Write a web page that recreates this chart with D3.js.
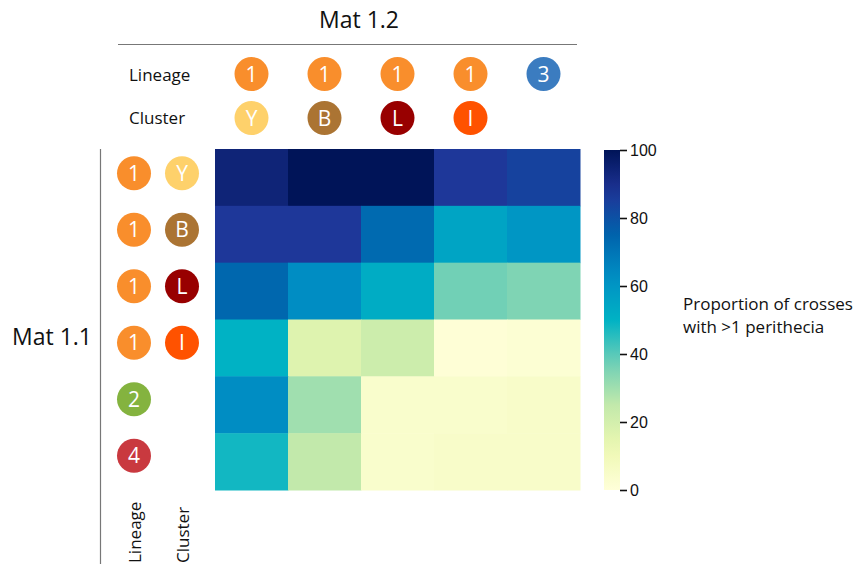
<!DOCTYPE html>
<html>
<head>
<meta charset="utf-8">
<script src="https://cdn.jsdelivr.net/npm/d3@7"></script>
<style>
  body { margin: 0; background: #fff; }
  text { font-family: "Open Sans", "Noto Sans", sans-serif; }
</style>
</head>
<body>
<svg id="chart" width="865" height="564"></svg>
<script>
// Mat 1.2 strains (columns) and Mat 1.1 strains (rows)
var colLineage = ["1", "1", "1", "1", "3"];
var colCluster = ["Y", "B", "L", "I", ""];
var rowLineage = ["1", "1", "1", "1", "2", "4"];
var rowCluster = ["Y", "B", "L", "I", "", ""];

// proportion of crosses with >1 perithecia (%), row by row
var values = [
    [94, 100, 100, 87, 84],
    [87, 87, 73, 55, 60],
    [74, 63, 52, 37, 35],
    [50, 17, 22, 1, 2],
    [63, 30, 4, 4, 5],
    [48, 25, 4, 5, 5]
];

var colorTicks = [0, 20, 40, 60, 80, 100];

// YlGnBu as it comes out in the figure
var colorStops = [0, 12.5, 25, 37.5, 50, 62.5, 75, 87.5, 100];
var colorRange = ["#ffffd9", "#edf8b1", "#c2e9ab", "#6ecfb6", "#00b2c4", "#008fc4", "#0063ac", "#1f3598", "#001458"];

var lineageColor = { "1": "#f98e2c", "2": "#84b33f", "3": "#3b7cc0", "4": "#c9393f" };
var clusterColor = { "Y": "#fed16b", "B": "#ab7433", "L": "#980000", "I": "#ff5200" };

var svg = d3.select("#chart");

var x = d3.scaleBand().domain(d3.range(colLineage.length)).range([215, 580]);
var y = d3.scaleBand().domain(d3.range(rowLineage.length)).range([149, 490]);
// left circles sit a little above the row centres
var yDot = d3.scaleBand().domain(d3.range(rowLineage.length)).range([145, 484]);

var color = d3.scaleLinear().domain(colorStops).range(colorRange).clamp(true);

// heatmap cells
values.forEach(function (row, i) {
    svg.selectAll(null)
        .data(row)
        .enter().append("rect")
        .attr("x", function (d, j) { return x(j); })
        .attr("y", y(i))
        .attr("width", x.bandwidth() + 0.5)
        .attr("height", y.bandwidth() + 0.5)
        .attr("fill", function (d) { return color(d); });
});

function dot(cx, cy, label, fill) {
    if (!label) return;
    svg.append("circle")
        .attr("cx", cx).attr("cy", cy).attr("r", 17)
        .attr("fill", fill);
    svg.append("text")
        .attr("x", cx).attr("y", cy + 7.5)
        .attr("text-anchor", "middle")
        .attr("font-size", 21)
        .attr("fill", "#fff")
        .text(label);
}

// top header
svg.append("text")
    .attr("x", 359).attr("y", 28)
    .attr("text-anchor", "middle")
    .attr("font-size", 23)
    .attr("fill", "#111")
    .text("Mat 1.2");

svg.append("line")
    .attr("x1", 118).attr("x2", 577)
    .attr("y1", 44.5).attr("y2", 44.5)
    .attr("stroke", "#777").attr("stroke-width", 1.2);

svg.append("text").attr("x", 129).attr("y", 81)
    .attr("font-size", 17).attr("fill", "#111").text("Lineage");
svg.append("text").attr("x", 129).attr("y", 124)
    .attr("font-size", 17).attr("fill", "#111").text("Cluster");

colLineage.forEach(function (d, j) {
    dot(x(j) + x.bandwidth() / 2, 74, d, lineageColor[d]);
});
colCluster.forEach(function (d, j) {
    dot(x(j) + x.bandwidth() / 2, 118, d, clusterColor[d]);
});

// left header
svg.append("text")
    .attr("x", 12).attr("y", 345)
    .attr("font-size", 23)
    .attr("fill", "#111")
    .text("Mat 1.1");

svg.append("line")
    .attr("x1", 100.5).attr("x2", 100.5)
    .attr("y1", 149).attr("y2", 564)
    .attr("stroke", "#777").attr("stroke-width", 1.2);

rowLineage.forEach(function (d, i) {
    dot(134, yDot(i) + yDot.bandwidth() / 2, d, lineageColor[d]);
});
rowCluster.forEach(function (d, i) {
    dot(182, yDot(i) + yDot.bandwidth() / 2, d, clusterColor[d]);
});

svg.append("text")
    .attr("transform", "translate(141,563) rotate(-90)")
    .attr("font-size", 17).attr("fill", "#111").text("Lineage");
svg.append("text")
    .attr("transform", "translate(189,563) rotate(-90)")
    .attr("font-size", 17).attr("fill", "#111").text("Cluster");

// colour bar
var cb = d3.scaleLinear().domain([0, 100]).range([490, 150]);

var grad = svg.append("defs").append("linearGradient")
    .attr("id", "cbar")
    .attr("x1", 0).attr("y1", 1).attr("x2", 0).attr("y2", 0);
d3.range(0, 101, 5).forEach(function (v) {
    grad.append("stop")
        .attr("offset", v / 100)
        .attr("stop-color", color(v));
});

svg.append("rect")
    .attr("x", 604).attr("y", cb(100))
    .attr("width", 16).attr("height", cb(0) - cb(100))
    .attr("fill", "url(#cbar)");

var cbAxis = svg.append("g")
    .attr("transform", "translate(620,0)")
    .call(d3.axisRight(cb).tickValues(colorTicks).tickSize(7).tickPadding(3));
cbAxis.select(".domain").remove();
cbAxis.selectAll("line").attr("stroke", "#111").attr("stroke-width", 1.6);
cbAxis.selectAll("text")
    .attr("font-size", 16)
    .attr("fill", "#111")
    .style("font-family", "Liberation Sans, Arial, sans-serif");

svg.append("text").attr("x", 683).attr("y", 310)
    .attr("font-size", 17).attr("fill", "#111").text("Proportion of crosses");
svg.append("text").attr("x", 683).attr("y", 333)
    .attr("font-size", 17).attr("fill", "#111").text("with >1 perithecia");
</script>
</body>
</html>
